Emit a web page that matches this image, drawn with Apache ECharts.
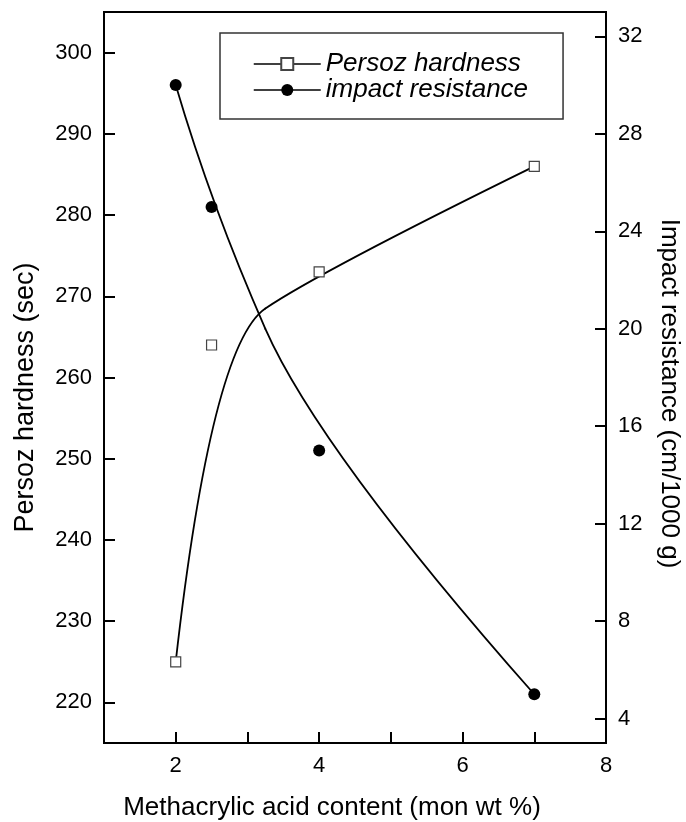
<!DOCTYPE html>
<html><head><meta charset="utf-8">
<script src="https://cdn.jsdelivr.net/npm/echarts@6/dist/echarts.min.js"></script>
<style>html,body{margin:0;padding:0;background:#fff}#c{width:686px;height:822px}</style>
</head><body><div id="c"></div>
<script>
const xValues = [2, 2.5, 4, 7];
const hardness = [225, 264, 273, 286];
const impact = [30, 25, 15, 5];
const xTickLabels = [2, 4, 6, 8];
const leftTicks = [220, 230, 240, 250, 260, 270, 280, 290, 300];
const rightTicks = [4, 8, 12, 16, 20, 24, 28, 32];
const seriesNames = ['Persoz hardness', 'impact resistance'];
const xName = 'Methacrylic acid content (mon wt %)';
const leftName = 'Persoz hardness (sec)';
const rightName = 'Impact resistance (cm/1000 g)';

const font = '"Liberation Sans", Arial, Helvetica, sans-serif';
const black = '#000';
const chart = echarts.init(document.getElementById('c'), null, {renderer: 'canvas'});

function axisCommon() {
  return {
    axisLine: {show: true, onZero: false, lineStyle: {color: black, width: 2}},
    axisTick: {show: true, inside: true, length: 11, lineStyle: {color: black, width: 2}},
    splitLine: {show: false},
    axisLabel: {color: black, fontSize: 22, fontFamily: font, margin: 12},
    nameTextStyle: {color: black, fontSize: 26, fontFamily: font}
  };
}
const xa = axisCommon();
const yl = axisCommon();
const yr = axisCommon();

// Quadratic B-spline connection (data points used as control points), mapped through the axes' scales
function splineRenderer(ys) {
  return function (params, api) {
    if (params.dataIndex !== 0) return null;
    const p = xValues.map((x, i) => api.coord([x, ys[i]]));
    const n = p.length;
    const children = [];
    let start = p[0];
    for (let i = 1; i <= n - 2; i++) {
      const end = (i === n - 2) ? p[n - 1] : [(p[i][0] + p[i + 1][0]) / 2, (p[i][1] + p[i + 1][1]) / 2];
      children.push({
        type: 'bezierCurve',
        shape: {x1: start[0], y1: start[1], cpx1: p[i][0], cpy1: p[i][1], x2: end[0], y2: end[1]},
        style: {stroke: black, lineWidth: 1.8, fill: null, lineCap: 'round'},
        silent: true
      });
      start = end;
    }
    return {type: 'group', children: children};
  };
}

chart.setOption({
  animation: false,
  backgroundColor: '#fff',
  textStyle: {fontFamily: font},
  grid: {left: 104, right: 80, top: 12, bottom: 79, outerBoundsMode: 'none', containLabel: false,
         show: true, borderColor: black, borderWidth: 2, backgroundColor: 'transparent'},
  legend: {
    data: seriesNames,
    orient: 'vertical',
    left: 220, top: 33,
    padding: [18, 35, 16, 33],
    itemGap: 0,
    itemWidth: 67, itemHeight: 15,
    borderColor: '#333', borderWidth: 1.5,
    backgroundColor: '#fff',
    lineStyle: {color: black, width: 1.5, opacity: 1},
    textStyle: {fontSize: 26, lineHeight: 24, fontStyle: 'italic', color: black, fontFamily: font}
  },
  xAxis: [{
    type: 'value', min: 1, max: 8, interval: 1, position: 'bottom',
    axisLine: xa.axisLine, axisTick: xa.axisTick, splitLine: xa.splitLine,
    axisLabel: Object.assign({}, xa.axisLabel, {customValues: xTickLabels}),
    name: xName, nameLocation: 'middle', nameGap: 52,
    nameTextStyle: Object.assign({}, xa.nameTextStyle, {padding: [0, 46, 0, 0]})
  }],
  yAxis: [{
    type: 'value', min: 215, max: 305, position: 'left',
    axisLine: yl.axisLine, splitLine: yl.splitLine,
    axisTick: Object.assign({}, yl.axisTick, {customValues: leftTicks}),
    axisLabel: Object.assign({}, yl.axisLabel, {customValues: leftTicks}),
    name: leftName, nameLocation: 'middle', nameGap: 65,
    nameTextStyle: Object.assign({}, yl.nameTextStyle, {fontSize: 27, padding: [0, 40, 0, 0]})
  }, {
    type: 'value', min: 3, max: 33, position: 'right',
    axisLine: yr.axisLine, splitLine: yr.splitLine,
    axisTick: Object.assign({}, yr.axisTick, {customValues: rightTicks}),
    axisLabel: Object.assign({}, yr.axisLabel, {customValues: rightTicks}),
    name: rightName, nameLocation: 'middle', nameGap: 50, nameRotate: -90,
    nameTextStyle: Object.assign({}, yr.nameTextStyle, {padding: [0, 0, 0, 32]})
  }],
  series: [{
    type: 'custom', yAxisIndex: 0, z: 2,
    data: xValues.map((x, i) => [x, hardness[i]]),
    renderItem: splineRenderer(hardness)
  }, {
    type: 'custom', yAxisIndex: 1, z: 2,
    data: xValues.map((x, i) => [x, impact[i]]),
    renderItem: splineRenderer(impact)
  }, {
    name: seriesNames[0], type: 'line', yAxisIndex: 0,
    data: xValues.map((x, i) => [x, hardness[i]]),
    symbol: 'rect', symbolSize: 10,
    itemStyle: {color: '#fff', borderColor: '#444', borderWidth: 1.2},
    lineStyle: {color: black, width: 1.5, opacity: 0},
    z: 3
  }, {
    name: seriesNames[1], type: 'line', yAxisIndex: 1,
    data: xValues.map((x, i) => [x, impact[i]]),
    symbol: 'circle', symbolSize: 12,
    itemStyle: {color: black, borderWidth: 0},
    lineStyle: {color: black, width: 1.5, opacity: 0},
    z: 4
  }]
});
</script></body></html>
